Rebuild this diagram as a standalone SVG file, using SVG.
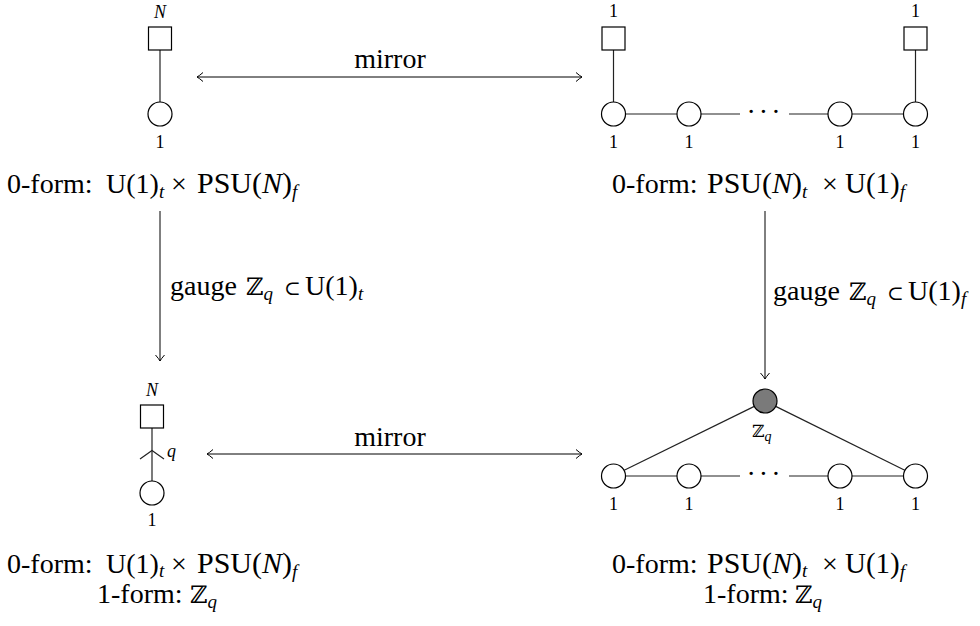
<svg xmlns="http://www.w3.org/2000/svg" width="980" height="626" viewBox="0 0 980 626">
<defs>
<style>
.t{font-family:"Liberation Serif","DejaVu Serif",serif;font-size:28px;fill:#000}
.s{font-family:"Liberation Serif","DejaVu Serif",serif;font-size:18px;fill:#000}
.i{font-style:italic}
.w{font-size:30px}
.sub{font-size:19px;font-style:italic}
.bb{font-family:"DejaVu Serif",serif;font-size:24px}
.sb{font-family:"DejaVu Serif",serif;font-size:20px}
.node{fill:#fff;stroke:#000;stroke-width:1.2}
.gray{fill:#7a7a7a;stroke:#000;stroke-width:1.2}
.ln{stroke:#222;stroke-width:1.2;fill:none}
.ar{stroke:#000;stroke-width:1;fill:none}
</style>
<marker id="ah" viewBox="-8 -6 10 12" refX="0" refY="0" markerWidth="10" markerHeight="12" markerUnits="userSpaceOnUse" orient="auto-start-reverse">
<path d="M-6,-4.5 Q-2,-1 0,0 Q-2,1 -6,4.5" fill="none" stroke="#000" stroke-width="1"/>
</marker>
</defs>

<g id="connectors">
<line class="ln" x1="160" y1="50" x2="160" y2="102"/>
<line class="ln" x1="613.5" y1="50" x2="613.5" y2="102"/>
<line class="ln" x1="915.5" y1="50" x2="915.5" y2="102"/>
<line class="ln" x1="625.5" y1="114" x2="677" y2="114"/>
<line class="ln" x1="701" y1="114" x2="740" y2="114"/>
<line class="ln" x1="789" y1="114" x2="828" y2="114"/>
<line class="ln" x1="852" y1="114" x2="903.5" y2="114"/>
<line class="ln" x1="152" y1="428" x2="152" y2="481"/>
<path class="ln" d="M140,459 L152,450.5 L164,459"/>
<line class="ln" x1="625.5" y1="476" x2="677" y2="476"/>
<line class="ln" x1="701" y1="476" x2="740" y2="476"/>
<line class="ln" x1="789" y1="476" x2="828" y2="476"/>
<line class="ln" x1="852" y1="476" x2="903.5" y2="476"/>
<line class="ln" x1="754.3" y1="406.4" x2="624.2" y2="470.3"/>
<line class="ln" x1="775.7" y1="406.4" x2="904.8" y2="470.3"/>
<line class="ar" x1="197" y1="77" x2="582" y2="77" marker-start="url(#ah)" marker-end="url(#ah)"/>
<line class="ar" x1="207" y1="454" x2="582" y2="454" marker-start="url(#ah)" marker-end="url(#ah)"/>
<line class="ar" x1="160" y1="211" x2="160" y2="361" marker-end="url(#ah)"/>
<line class="ar" x1="765" y1="211" x2="765" y2="379" marker-end="url(#ah)"/>
</g>

<g id="n_tl_flavor"><rect class="node" x="148.5" y="27" width="23" height="23"/><text class="s i" x="160" y="18" font-size="20" text-anchor="middle">N</text></g>
<g id="n_tl_gauge"><circle class="node" cx="160" cy="114" r="12"/><text class="s" x="160" y="148" text-anchor="middle">1</text></g>

<g id="n_tr_f1"><rect class="node" x="602" y="27" width="23" height="23"/><text class="s" x="613.5" y="17" text-anchor="middle">1</text></g>
<g id="n_tr_f2"><rect class="node" x="904" y="27" width="23" height="23"/><text class="s" x="915.5" y="17" text-anchor="middle">1</text></g>
<g id="n_tr_g1"><circle class="node" cx="613.5" cy="114" r="12"/><text class="s" x="613.5" y="148" text-anchor="middle">1</text></g>
<g id="n_tr_g2"><circle class="node" cx="689" cy="114" r="12"/><text class="s" x="689" y="148" text-anchor="middle">1</text></g>
<g id="n_tr_dots"><text class="t" x="765" y="121" text-anchor="middle" letter-spacing="3">···</text></g>
<g id="n_tr_g3"><circle class="node" cx="840" cy="114" r="12"/><text class="s" x="840" y="148" text-anchor="middle">1</text></g>
<g id="n_tr_g4"><circle class="node" cx="915.5" cy="114" r="12"/><text class="s" x="915.5" y="148" text-anchor="middle">1</text></g>

<g id="n_bl_flavor"><rect class="node" x="140.5" y="405" width="23" height="23"/><text class="s i" x="152" y="396" font-size="20" text-anchor="middle">N</text></g>
<g id="n_bl_gauge"><circle class="node" cx="152" cy="493" r="12"/><text class="s" x="152" y="526" text-anchor="middle">1</text></g>
<text class="s i" x="167" y="457" font-size="20">q</text>

<g id="n_br_zq"><circle class="gray" cx="765" cy="401" r="12"/><text class="s" x="752" y="437"><tspan font-family="DejaVu Serif" font-size="17">ℤ</tspan><tspan class="i" font-size="14" dy="4">q</tspan></text></g>
<g id="n_br_g1"><circle class="node" cx="613.5" cy="476" r="12"/><text class="s" x="613.5" y="510" text-anchor="middle">1</text></g>
<g id="n_br_g2"><circle class="node" cx="689" cy="476" r="12"/><text class="s" x="689" y="510" text-anchor="middle">1</text></g>
<g id="n_br_dots"><text class="t" x="765" y="483" text-anchor="middle" letter-spacing="3">···</text></g>
<g id="n_br_g3"><circle class="node" cx="840" cy="476" r="12"/><text class="s" x="840" y="510" text-anchor="middle">1</text></g>
<g id="n_br_g4"><circle class="node" cx="915.5" cy="476" r="12"/><text class="s" x="915.5" y="510" text-anchor="middle">1</text></g>

<g id="labels">
<text class="t" x="390" y="68" text-anchor="middle">mirror</text>
<text class="t" x="390" y="446" text-anchor="middle">mirror</text>

<text class="t" y="193"><tspan x="7">0-form:</tspan><tspan x="106">U(1)</tspan><tspan class="sub" dy="5">t</tspan><tspan x="171" dy="-5">×</tspan><tspan class="w" x="197">PSU(</tspan><tspan class="w i">N</tspan><tspan class="w">)</tspan><tspan class="sub" dy="5">f</tspan></text>
<text class="t" y="193"><tspan x="612">0-form:</tspan><tspan class="w" x="707">PSU(</tspan><tspan class="w i">N</tspan><tspan class="w">)</tspan><tspan class="sub" dy="5">t</tspan><tspan x="822" dy="-5">×</tspan><tspan x="845" font-size="29">U(1)</tspan><tspan class="sub" dy="5">f</tspan></text>

<text class="t" y="295"><tspan x="170">gauge</tspan><tspan x="246" class="bb">ℤ</tspan><tspan class="sub" dy="5">q</tspan><tspan x="284" dy="-5" class="sb">⊂</tspan><tspan x="305">U(1)</tspan><tspan class="sub" dy="5">t</tspan></text>
<text class="t" y="300"><tspan x="773">gauge</tspan><tspan x="849" class="bb">ℤ</tspan><tspan class="sub" dy="5">q</tspan><tspan x="887" dy="-5" class="sb">⊂</tspan><tspan x="908">U(1)</tspan><tspan class="sub" dy="5">f</tspan></text>

<text class="t" y="573"><tspan x="7">0-form:</tspan><tspan x="106">U(1)</tspan><tspan class="sub" font-size="18" dy="4">t</tspan><tspan x="171" dy="-4">×</tspan><tspan class="w" x="197">PSU(</tspan><tspan class="w i">N</tspan><tspan class="w">)</tspan><tspan class="sub" dy="5">f</tspan></text>
<text class="t" y="603"><tspan x="97">1-form:</tspan><tspan x="190" class="bb">ℤ</tspan><tspan class="sub" dy="5">q</tspan></text>

<text class="t" y="573"><tspan x="612">0-form:</tspan><tspan class="w" x="707">PSU(</tspan><tspan class="w i">N</tspan><tspan class="w">)</tspan><tspan class="sub" font-size="18" dy="4">t</tspan><tspan x="822" dy="-4">×</tspan><tspan x="845" font-size="29">U(1)</tspan><tspan class="sub" dy="5">f</tspan></text>
<text class="t" y="603"><tspan x="703">1-form:</tspan><tspan x="795" class="bb">ℤ</tspan><tspan class="sub" dy="5">q</tspan></text>
</g>
</svg>
